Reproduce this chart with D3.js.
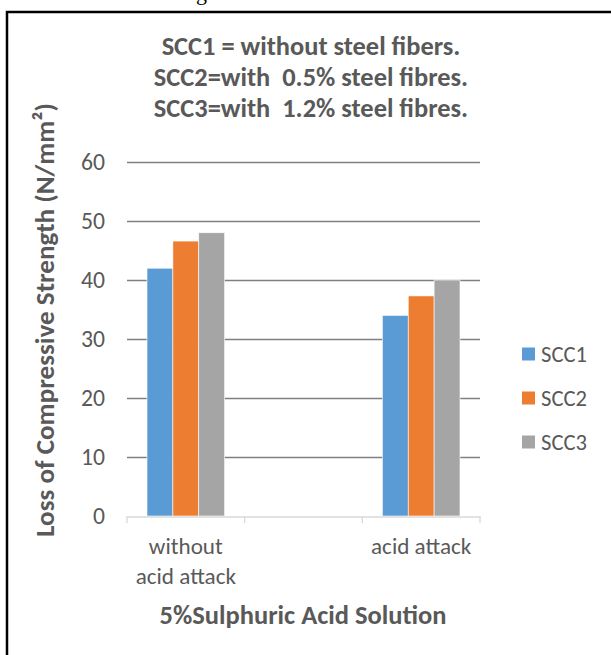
<!DOCTYPE html>
<html>
<head>
<meta charset="utf-8">
<script src="https://cdn.jsdelivr.net/npm/d3@7"></script>
<style>
  html, body { margin: 0; padding: 0; background: #fff; }
  svg { display: block; }
  text { font-family: Calibri, Carlito, Lato, "Open Sans", sans-serif; }
</style>
</head>
<body>
<svg id="chart" width="611" height="655"></svg>
<script>
// ---- data ----
const categories = ["without|acid attack", "", "acid attack"];
const seriesNames = ["SCC1", "SCC2", "SCC3"];
const scc1 = [42, null, 34];
const scc2 = [46.6, null, 37.3];
const scc3 = [48, null, 40];
const yTicks = [0, 10, 20, 30, 40, 50, 60];
const titleLines = ["SCC1 = without steel fibers.", "SCC2=with  0.5% steel fibres.", "SCC3=with  1.2% steel fibres."];
const yTitle = "Loss of Compressive Strength (N/mm²)";
const xTitle = "5%Sulphuric Acid Solution";
const colors = ["#5b9bd5", "#ed7d31", "#a5a5a5"];

const seriesValues = [scc1, scc2, scc3];
const svg = d3.select("#chart");
const textColor = "#595959";

// font size that makes a sample text reach a target width
function fitSize(str, target, weight) {
  const t = svg.append("text").attr("font-size", 20).attr("font-weight", weight || "normal")
    .style("white-space", "pre").text(str);
  const w = t.node().getComputedTextLength();
  t.remove();
  return 20 * target / w;
}
const titleSize = fitSize(titleLines[0], 299, "bold");
const yTitleSize = fitSize(yTitle, 434, "bold");
const xTitleSize = fitSize(xTitle, 287, "bold");
const tickSize = fitSize("60", 24);
const catSize = fitSize("without", 74);
const legSize = fitSize("SCC1", 46);

// frame
svg.append("rect").attr("x", 7).attr("y", 12).attr("width", 610).attr("height", 660)
  .attr("fill", "none").attr("stroke", "#000").attr("stroke-width", 2.5);
// cut-off caption fragment above frame
svg.append("text").attr("x", 196).attr("y", 0)
  .style("font-family", "'Liberation Serif', serif").attr("font-size", 22).attr("fill", "#000").text("g");

const x = d3.scaleBand().domain(categories).range([127, 480]).paddingInner(0).paddingOuter(0);
const xs = d3.scaleBand().domain(seriesNames).range([20, x.bandwidth() - 20]).padding(0);
const y = d3.scaleLinear().domain([0, 60]).range([516, 162]);

// gridlines
const gy = d3.axisLeft(y).tickValues(yTicks.filter(d => d > 0)).tickSize(-(480 - 127)).tickFormat("");
svg.append("g").attr("transform", "translate(127,0)").call(gy)
  .call(g => g.select(".domain").remove())
  .call(g => g.selectAll("line").attr("stroke", "#808080").attr("stroke-width", 1.4));

// y tick labels
const ya = d3.axisLeft(y).tickValues(yTicks).tickSize(0).tickPadding(0);
svg.append("g").attr("transform", "translate(105,0)").call(ya)
  .call(g => g.select(".domain").remove())
  .call(g => g.selectAll("text").attr("fill", textColor).attr("font-size", tickSize)
    .style("font-family", "Calibri, Carlito, Lato, 'Open Sans', sans-serif"));

// bars
seriesNames.forEach((s, si) => {
  svg.append("g").selectAll("rect")
    .data(categories.map((c, i) => ({c, v: seriesValues[si][i]})).filter(d => d.v != null))
    .join("rect")
    .attr("x", d => x(d.c) + xs(s))
    .attr("width", xs.bandwidth())
    .attr("y", d => y(d.v))
    .attr("height", d => y(0) - y(d.v))
    .attr("fill", colors[si])
    .attr("stroke", "#fff").attr("stroke-width", 0.6);
});

// x axis
const xa = d3.axisBottom(x).tickSize(0).tickFormat("");
svg.append("g").attr("transform", "translate(0,516.5)").call(xa)
  .call(g => g.select(".domain").attr("stroke", "#d9d9d9").attr("stroke-width", 1.3));
const bounds = categories.map(c => x(c)).concat([x(categories[categories.length - 1]) + x.bandwidth()]);
svg.append("g").selectAll("line").data(bounds).join("line")
  .attr("x1", d => d).attr("x2", d => d).attr("y1", 516).attr("y2", 523)
  .attr("stroke", "#d9d9d9").attr("stroke-width", 1.3);

// category labels
categories.forEach(c => {
  if (!c) return;
  const lines = c.split("|");
  const t = svg.append("text").attr("text-anchor", "middle").attr("fill", textColor).attr("font-size", catSize);
  lines.forEach((l, i) => {
    t.append("tspan").attr("x", x(c) + x.bandwidth() / 2).attr("y", 554 + i * 30).text(l);
  });
});

// title
titleLines.forEach((l, i) => {
  svg.append("text").attr("x", 311).attr("y", 55 + i * 31).attr("text-anchor", "middle")
    .style("white-space", "pre")
    .attr("font-weight", "bold").attr("font-size", titleSize).attr("fill", textColor).text(l);
});

// axis titles
svg.append("text").attr("transform", "translate(54,320) rotate(-90)").attr("text-anchor", "middle")
  .attr("font-weight", "bold").attr("font-size", yTitleSize).attr("fill", textColor).text(yTitle);
svg.append("text").attr("x", 303).attr("y", 624).attr("text-anchor", "middle")
  .attr("font-weight", "bold").attr("font-size", xTitleSize).attr("fill", textColor).text(xTitle);

// legend
const lg = svg.append("g");
seriesNames.forEach((s, i) => {
  const cy = 354 + i * 44;
  lg.append("rect").attr("x", 522).attr("y", cy - 6.5).attr("width", 13).attr("height", 13).attr("fill", colors[i]);
  lg.append("text").attr("x", 541).attr("y", cy + 7.5).attr("fill", textColor).attr("font-size", legSize).text(s);
});
</script>
</body>
</html>
